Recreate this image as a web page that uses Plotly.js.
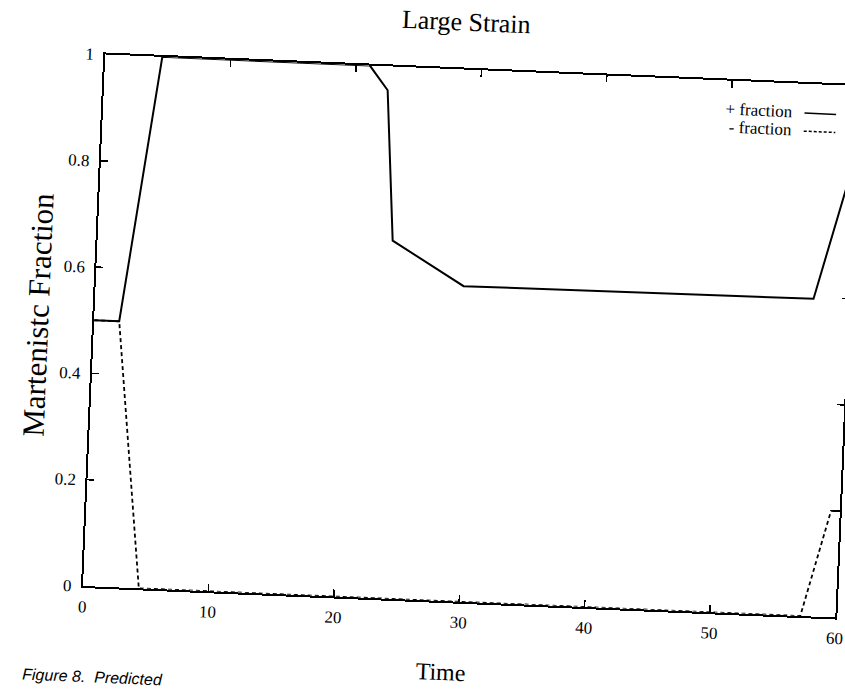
<!DOCTYPE html>
<html>
<head>
<meta charset="utf-8">
<script src="https://cdn.plot.ly/plotly-3.0.1.min.js"></script>
<style>
  html, body { margin: 0; padding: 0; width: 845px; height: 690px; overflow: hidden; background: #fff; }
  #plot { position: absolute; left: 0; top: -40px; width: 900px; height: 740px;
          transform-origin: 83px 626px; transform: rotate(2.4deg); }
</style>
</head>
<body>
<div id="plot"></div>
<script>
// Data
const plusTime = [0, 2.0, 4.55, 21.1, 22.6, 23.5, 29.3, 57.2, 60];
const plusFraction = [0.5, 0.5, 1.0, 1.0, 0.955, 0.673, 0.593, 0.597, 0.86];
const minusTime = [0, 2.0, 4.45, 57.2, 59.3, 60];
const minusFraction = [0.5, 0.5, 0, 0, 0.2, 0.2];
const xTicks = [0, 10, 20, 30, 40, 50, 60];
const yTicks = [0, 0.2, 0.4, 0.6, 0.8, 1];
const yTickText = ['0', '0.2', '0.4', '0.6', '0.8', '1'];
const legendNames = ['+ fraction', '- fraction'];

const serif = 'Liberation Serif, Times New Roman, serif';

const traces = [
  { x: plusTime, y: plusFraction, type: 'scatter', mode: 'lines', name: legendNames[0],
    line: { color: '#000', width: 2 }, cliponaxis: false, showlegend: false },
  { x: minusTime, y: minusFraction, type: 'scatter', mode: 'lines', name: legendNames[1],
    line: { color: '#000', width: 1.8, dash: '4px,3px' }, cliponaxis: false, showlegend: false }
];

const axisCommon = {
  ticks: 'inside', ticklen: 7, tickwidth: 1.5, tickcolor: '#000',
  showline: true, linecolor: '#000', linewidth: 2, mirror: 'ticks',
  showgrid: false, zeroline: false,
  tickfont: { family: serif, size: 17, color: '#000' },
  fixedrange: true
};

const layout = {
  width: 900, height: 740,
  margin: { l: 83, r: 64, t: 94, b: 114, pad: 0 },
  paper_bgcolor: '#fff', plot_bgcolor: '#fff',
  showlegend: false,
  xaxis: Object.assign({}, axisCommon, { range: [0, 60], tickvals: xTicks, ticklabelstandoff: 4 }),
  yaxis: Object.assign({}, axisCommon, { range: [0, 1], tickvals: yTicks, ticktext: yTickText, ticklabelstandoff: 6 }),
  annotations: [
    { text: 'Large Strain', xref: 'paper', yref: 'paper', x: 0.478, y: 1.089,
      xanchor: 'center', yanchor: 'middle', showarrow: false,
      font: { family: serif, size: 26, color: '#000' } },
    { text: 'Time', xref: 'paper', yref: 'paper', x: 0.48, y: -0.134,
      xanchor: 'center', yanchor: 'middle', showarrow: false,
      font: { family: serif, size: 24, color: '#000' } },
    { text: 'Martenistc Fraction', xref: 'paper', yref: 'paper', x: -0.075, y: 0.505,
      xanchor: 'center', yanchor: 'middle', showarrow: false, textangle: -90,
      font: { family: serif, size: 31, color: '#000' } },
    { text: legendNames[0], xref: 'paper', yref: 'paper', x: 0.918, y: 0.947,
      xanchor: 'right', yanchor: 'middle', showarrow: false,
      font: { family: serif, size: 17, color: '#000' } },
    { text: legendNames[1], xref: 'paper', yref: 'paper', x: 0.918, y: 0.913,
      xanchor: 'right', yanchor: 'middle', showarrow: false,
      font: { family: serif, size: 17, color: '#000' } },
    { text: '<i>Figure 8.  Predicted</i>', xref: 'paper', yref: 'paper', x: -0.078, y: -0.170,
      xanchor: 'left', yanchor: 'middle', showarrow: false,
      font: { family: 'Liberation Sans, Arial, sans-serif', size: 16, color: '#000' } }
  ],
  shapes: [
    { type: 'line', xref: 'paper', yref: 'paper', x0: 0.931, x1: 0.973, y0: 0.945, y1: 0.945,
      line: { color: '#000', width: 1.5 } },
    { type: 'line', xref: 'paper', yref: 'paper', x0: 0.931, x1: 0.973, y0: 0.911, y1: 0.911,
      line: { color: '#000', width: 1.5, dash: '3px,2px' } }
  ]
};

Plotly.newPlot('plot', traces, layout, { staticPlot: true, displayModeBar: false });
</script>
</body>
</html>
